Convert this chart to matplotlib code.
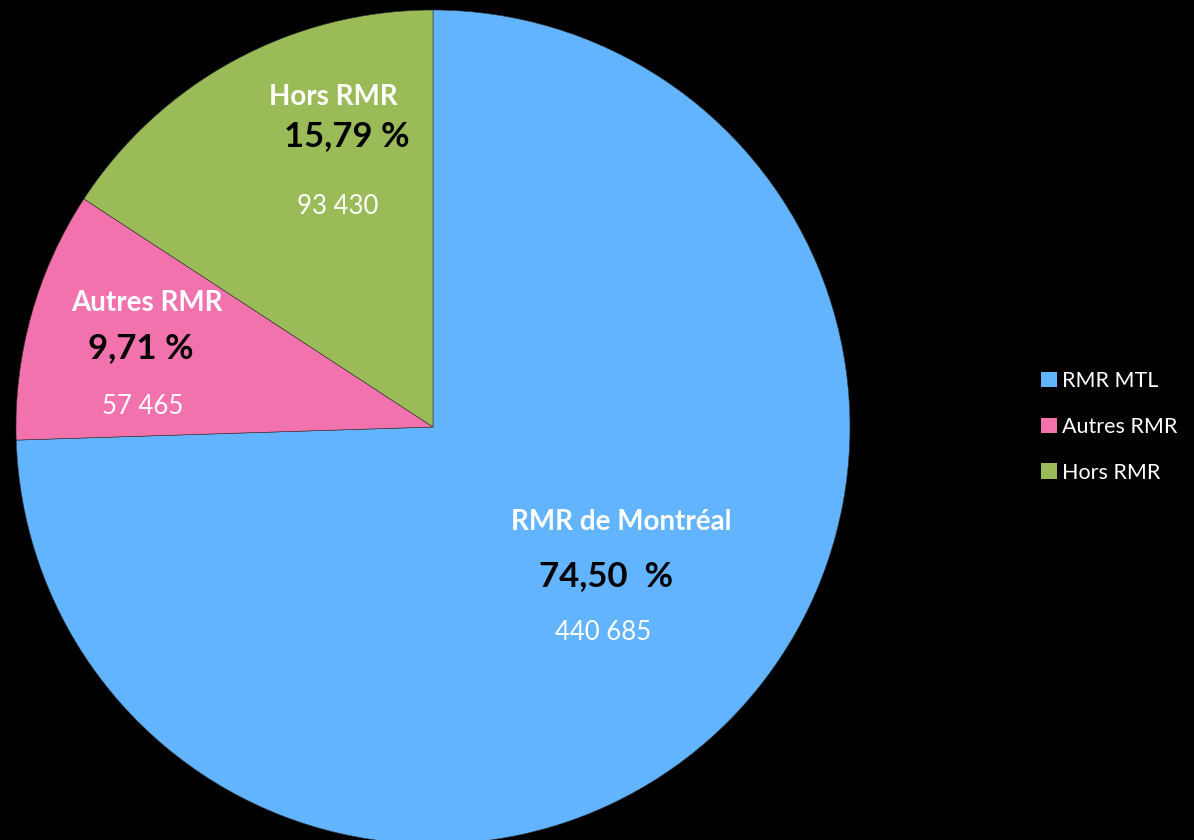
import matplotlib
matplotlib.use("Agg")
import matplotlib.pyplot as plt
from matplotlib.patches import Patch

# Donnees du graphique
categories = ["RMR MTL", "Autres RMR", "Hors RMR"]
noms = ["RMR de Montréal", "Autres RMR", "Hors RMR"]
pourcentages = [74.50, 9.71, 15.79]
effectifs = ["440 685", "57 465", "93 430"]
pct_labels = ["74,50  %", "9,71 %", "15,79 %"]
couleurs = ["#62B4FF", "#F272AE", "#9BBB59"]

plt.rcParams['font.family'] = ['Lato', 'DejaVu Sans']

fig = plt.figure(figsize=(11.94, 8.4), dpi=100, facecolor="black")
ax = fig.add_axes([0, 0, 1, 1])
ax.set_facecolor("black")

# pie en coordonnees pixels (y vers le haut), sens horaire
wedges, _ = ax.pie(pourcentages, colors=couleurs, startangle=90, counterclock=False,
                   center=(433, 413), radius=417,
                   wedgeprops=dict(edgecolor="#333333", linewidth=0.4))
ax.set_xlim(0, 1194)
ax.set_ylim(0, 840)
ax.set_aspect("equal")
ax.axis("off")

# positions des etiquettes (pixels, origine en haut a gauche)
pos_nom = [(621, 522), (147, 303), (333, 97)]
pos_pct = [(606, 576), (141, 348), (347, 136)]
pos_eff = [(603, 632), (143, 406), (338, 207)]

for i in range(len(categories)):
    ax.text(pos_nom[i][0], 840 - pos_nom[i][1], noms[i], color="white", fontsize=20,
            fontweight="bold", ha="center", va="center")
    ax.text(pos_pct[i][0], 840 - pos_pct[i][1], pct_labels[i], color="black", fontsize=25,
            fontweight="bold", ha="center", va="center")
    ax.text(pos_eff[i][0], 840 - pos_eff[i][1], effectifs[i], color="white", fontsize=18.5,
            ha="center", va="center")

handles = [Patch(facecolor=c, edgecolor="none") for c in couleurs]
leg = fig.legend(handles, categories, loc="center left", bbox_to_anchor=(0.856, 0.492),
                 frameon=False, fontsize=15.5, handlelength=0.7, handleheight=0.7,
                 handletextpad=0.25, labelspacing=1.2, labelcolor="white")

fig.savefig("out.png", dpi=100, facecolor="black")
